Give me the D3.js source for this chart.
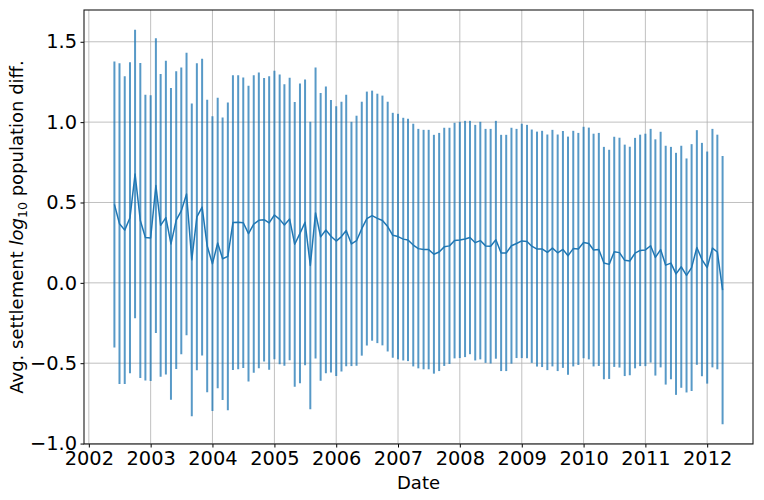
<!DOCTYPE html>
<html lang="en">
<head>
    <meta charset="UTF-8">
    <title>Settlement population diff</title>
    <style>
        body{ margin:0; background:#fff; }
        text{ font-family:"DejaVu Sans", sans-serif; fill:#000; }
        .grid line{ stroke:#b0b0b0; stroke-width:0.8; }
        .axis path{ display:none; }
        .axis line{ stroke:#000; stroke-width:1; }
    </style>
    <script src="https://cdn.jsdelivr.net/npm/d3@7"></script>
</head>
<body>
<script>
    // monthly points, first and last month
    var firstMonth = "2002-06-01";
    var lastMonth = "2012-04-01";

    // average log10 population diff per month
    var meanValues = [
        0.488, 0.368, 0.328, 0.405, 0.677, 0.388, 0.282, 0.279, 0.605, 0.358,
        0.406, 0.242, 0.390, 0.448, 0.553, 0.143, 0.411, 0.471, 0.229, 0.119,
        0.248, 0.150, 0.165, 0.375, 0.377, 0.374, 0.306, 0.366, 0.389, 0.393,
        0.373, 0.422, 0.395, 0.360, 0.397, 0.240, 0.308, 0.377, 0.108, 0.435,
        0.286, 0.329, 0.290, 0.260, 0.288, 0.326, 0.242, 0.262, 0.337, 0.400,
        0.418, 0.401, 0.388, 0.350, 0.296, 0.288, 0.272, 0.267, 0.235, 0.213,
        0.207, 0.207, 0.178, 0.192, 0.224, 0.230, 0.263, 0.267, 0.273, 0.282,
        0.250, 0.263, 0.230, 0.228, 0.268, 0.186, 0.186, 0.231, 0.245, 0.261,
        0.257, 0.228, 0.210, 0.211, 0.190, 0.216, 0.187, 0.208, 0.169, 0.213,
        0.211, 0.251, 0.245, 0.204, 0.208, 0.123, 0.115, 0.193, 0.188, 0.140,
        0.136, 0.185, 0.202, 0.205, 0.231, 0.158, 0.207, 0.110, 0.123, 0.056,
        0.100, 0.046, 0.095, 0.220, 0.145, 0.095, 0.216, 0.192, -0.045
    ];

    // error bar half length (std)
    var errValues = [
        0.890, 0.998, 0.957, 0.967, 0.898, 0.980, 0.889, 0.889, 0.917, 0.942,
        0.976, 0.970, 0.926, 0.892, 0.879, 0.973, 0.955, 0.923, 0.910, 0.917,
        0.904, 0.879, 0.957, 0.917, 0.914, 0.904, 0.920, 0.926, 0.920, 0.882,
        0.913, 0.898, 0.901, 0.876, 0.879, 0.886, 0.933, 0.889, 0.894, 0.905,
        0.895, 0.892, 0.848, 0.839, 0.839, 0.845, 0.760, 0.778, 0.790, 0.790,
        0.778, 0.776, 0.777, 0.777, 0.762, 0.764, 0.755, 0.754, 0.755, 0.745,
        0.745, 0.745, 0.743, 0.741, 0.741, 0.735, 0.733, 0.735, 0.735, 0.726,
        0.733, 0.739, 0.728, 0.730, 0.740, 0.735, 0.735, 0.734, 0.713, 0.729,
        0.726, 0.726, 0.731, 0.735, 0.733, 0.736, 0.736, 0.737, 0.741, 0.733,
        0.722, 0.720, 0.721, 0.724, 0.725, 0.723, 0.713, 0.716, 0.715, 0.720,
        0.711, 0.717, 0.720, 0.723, 0.727, 0.735, 0.733, 0.743, 0.723, 0.753,
        0.753, 0.728, 0.768, 0.730, 0.726, 0.722, 0.742, 0.730, 0.835
    ];

    var yTicks = [-1.0, -0.5, 0.0, 0.5, 1.0, 1.5];

    var width = 764;
    var height = 500;
    var padding = {top:10, right:11, bottom:56, left:84};

    var parse = d3.timeParse("%Y-%m-%d");
    var months = d3.timeMonth.range(parse(firstMonth), d3.timeMonth.offset(parse(lastMonth), 1));

    var dataset = months.map(function(d, i){
        return {date:d, mean:meanValues[i], err:errValues[i]};
    });

    var svg = d3.select("body")
            .append("svg")
            .attr("width", width)
            .attr("height", height);

    // 5% margins like matplotlib autoscale
    var xExt = d3.extent(dataset, function(d){ return +d.date; });
    var xPad = (xExt[1] - xExt[0]) * 0.05;
    var xScale = d3.scaleTime()
            .domain([new Date(xExt[0] - xPad), new Date(xExt[1] + xPad)])
            .range([padding.left, width - padding.right]);

    var yMin = d3.min(dataset, function(d){ return d.mean - d.err; });
    var yMax = d3.max(dataset, function(d){ return d.mean + d.err; });
    var yPad = (yMax - yMin) * 0.05;
    var yScale = d3.scaleLinear()
            .domain([yMin - yPad, yMax + yPad])
            .range([height - padding.bottom, padding.top]);

    var xTicks = xScale.ticks(d3.timeYear.every(1));

    // grid
    var grid = svg.append("g").attr("class", "grid");
    grid.selectAll(".gx")
            .data(xTicks)
            .enter()
            .append("line")
            .attr("x1", function(d){ return xScale(d); })
            .attr("x2", function(d){ return xScale(d); })
            .attr("y1", padding.top)
            .attr("y2", height - padding.bottom);
    grid.selectAll(".gy")
            .data(yTicks)
            .enter()
            .append("line")
            .attr("x1", padding.left)
            .attr("x2", width - padding.right)
            .attr("y1", function(d){ return yScale(d); })
            .attr("y2", function(d){ return yScale(d); });

    // error bars
    svg.append("g")
            .selectAll("line")
            .data(dataset)
            .enter()
            .append("line")
            .attr("x1", function(d){ return xScale(d.date); })
            .attr("x2", function(d){ return xScale(d.date); })
            .attr("y1", function(d){ return yScale(d.mean - d.err); })
            .attr("y2", function(d){ return yScale(d.mean + d.err); })
            .attr("stroke", "#1f77b4")
            .attr("stroke-opacity", 0.75)
            .attr("stroke-width", 2);

    var line = d3.line()
            .x(function(d){ return xScale(d.date); })
            .y(function(d){ return yScale(d.mean); });

    svg.append("path")
            .attr("d", line(dataset))
            .attr("fill", "none")
            .attr("stroke", "#1f77b4")
            .attr("stroke-width", 1.5)
            .attr("stroke-linejoin", "round");

    // axes
    var xAxis = d3.axisBottom(xScale)
            .tickValues(xTicks)
            .tickFormat(d3.timeFormat("%Y"))
            .tickSizeInner(3.5)
            .tickSizeOuter(0)
            .tickPadding(3.5);
    var gx = svg.append("g")
            .attr("class", "axis")
            .attr("transform", "translate(0," + (height - padding.bottom) + ")")
            .call(xAxis);
    gx.selectAll("text")
            .attr("font-size", 19.4)
            .attr("fill", "#000")
            .attr("font-family", "DejaVu Sans");

    var yAxis = d3.axisLeft(yScale)
            .tickValues(yTicks)
            .tickFormat(function(d){ return d3.format(".1f")(d).replace("-", "\u2212"); })
            .tickSizeInner(3.5)
            .tickSizeOuter(0)
            .tickPadding(3.5);
    var gy = svg.append("g")
            .attr("class", "axis")
            .attr("transform", "translate(" + padding.left + ",0)")
            .call(yAxis);
    gy.selectAll("text")
            .attr("font-size", 19.4)
            .attr("fill", "#000")
            .attr("font-family", "DejaVu Sans");

    // frame
    svg.append("rect")
            .attr("x", padding.left)
            .attr("y", padding.top)
            .attr("width", width - padding.left - padding.right)
            .attr("height", height - padding.top - padding.bottom)
            .attr("fill", "none")
            .attr("stroke", "#1a1a1a")
            .attr("stroke-width", 1.1);

    // labels
    svg.append("text")
            .attr("x", (padding.left + width - padding.right) / 2)
            .attr("y", 489)
            .attr("text-anchor", "middle")
            .attr("font-size", 18)
            .text("Date");

    var ylab = svg.append("text")
            .attr("transform", "translate(23," + ((padding.top + height - padding.bottom) / 2) + ") rotate(-90)")
            .attr("text-anchor", "middle")
            .attr("font-size", 18);
    ylab.append("tspan").text("Avg. settlement ");
    ylab.append("tspan").attr("font-style", "italic").text("log");
    ylab.append("tspan").attr("font-size", 12.6).attr("dy", 4).text("10");
    ylab.append("tspan").attr("dy", -4).text(" population diff.");
</script>
</body>
</html>
